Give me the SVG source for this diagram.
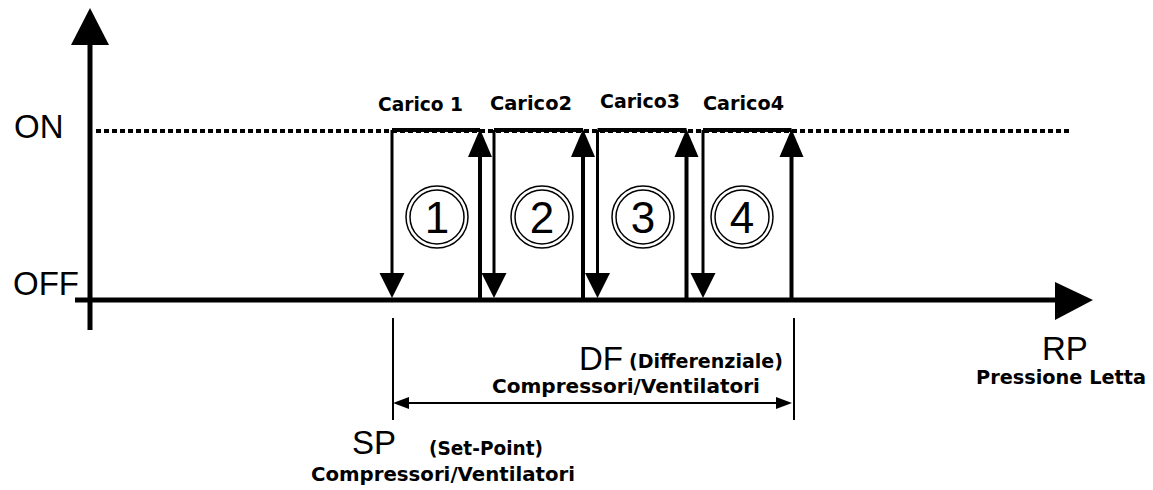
<svg xmlns="http://www.w3.org/2000/svg" width="1153" height="490" viewBox="0 0 1153 490">
<style>
.ax{stroke:#000;stroke-width:5;fill:none}
.th{stroke:#000;stroke-width:3;fill:none}
.thu{stroke:#000;stroke-width:4;fill:none}
.top{stroke:#000;stroke-width:4;fill:none}
.thin{stroke:#000;stroke-width:2;fill:none}
.dot{stroke:#000;stroke-width:4;stroke-dasharray:5 3;fill:none}
.hd{fill:#000;stroke:none}
.ring{fill:none;stroke:#000;stroke-width:1.5}
.big{font-family:"Liberation Sans",Arial,sans-serif;font-size:33px;fill:#000}
.dig{font-family:"Liberation Sans",Arial,sans-serif;font-size:44px;fill:#000;text-anchor:middle}
.sm{font-family:"DejaVu Sans",Verdana,sans-serif;font-weight:bold;font-size:20px;fill:#000}
</style>
<defs>
<polygon id="dn" class="hd" points="-12.5,0 12.5,0 0,25"/>
<polygon id="up" class="hd" points="0,0 -12,28 12,28"/>
<g id="ring"><circle class="ring" r="31"/><circle class="ring" r="27"/></g>
</defs>
<rect width="1153" height="490" fill="#fff"/>
<g id="axes">
<line class="dot" x1="96" y1="131" x2="1070" y2="131"/>
<line class="ax" x1="90" y1="40" x2="90" y2="330"/>
<polygon class="hd" points="90,8 71,45 109,45"/>
<line class="ax" x1="75" y1="300" x2="1060" y2="300"/>
<polygon class="hd" points="1093,300 1055,282 1055,320"/>
<text class="big" x="14" y="138">ON</text>
<text class="big" x="13" y="295">OFF</text>
<text class="big" x="1042" y="360">RP</text>
<text class="sm" x="976" y="384" textLength="170" lengthAdjust="spacingAndGlyphs">Pressione Letta</text>
</g>
<g id="load1">
<line class="top" x1="392" y1="130" x2="480" y2="130"/>
<line class="th" x1="392" y1="130" x2="392" y2="275"/>
<use href="#dn" x="392" y="273"/>
<line class="thu" x1="480" y1="300" x2="480" y2="155"/>
<use href="#up" x="480" y="129"/>
<use href="#ring" x="437" y="217"/>
<text class="dig" x="437" y="233">1</text>
<text class="sm" x="378" y="111" textLength="85" lengthAdjust="spacingAndGlyphs">Carico 1</text>
</g>
<g id="load2">
<line class="top" x1="494" y1="130" x2="583" y2="130"/>
<line class="th" x1="494" y1="130" x2="494" y2="275"/>
<use href="#dn" x="494" y="273"/>
<line class="thu" x1="583" y1="300" x2="583" y2="155"/>
<use href="#up" x="583" y="129"/>
<use href="#ring" x="542" y="217"/>
<text class="dig" x="542" y="233">2</text>
<text class="sm" x="490" y="110" textLength="82" lengthAdjust="spacingAndGlyphs">Carico2</text>
</g>
<g id="load3">
<line class="top" x1="597.5" y1="130" x2="686.5" y2="130"/>
<line class="th" x1="597.5" y1="130" x2="597.5" y2="275"/>
<use href="#dn" x="597.5" y="273"/>
<line class="thu" x1="686.5" y1="300" x2="686.5" y2="155"/>
<use href="#up" x="686.5" y="129"/>
<use href="#ring" x="643" y="217"/>
<text class="dig" x="643" y="233">3</text>
<text class="sm" x="600" y="108" textLength="80" lengthAdjust="spacingAndGlyphs">Carico3</text>
</g>
<g id="load4">
<line class="top" x1="703" y1="130" x2="791.5" y2="130"/>
<line class="th" x1="703" y1="130" x2="703" y2="275"/>
<use href="#dn" x="703" y="273"/>
<line class="thu" x1="791.5" y1="300" x2="791.5" y2="155"/>
<use href="#up" x="791.5" y="129"/>
<use href="#ring" x="742" y="217"/>
<text class="dig" x="742" y="233">4</text>
<text class="sm" x="703" y="110" textLength="81" lengthAdjust="spacingAndGlyphs">Carico4</text>
</g>
<g id="connectors">
<line class="thin" x1="393" y1="318" x2="393" y2="420"/>
<line class="thin" x1="794" y1="318" x2="794" y2="420"/>
<line class="thin" x1="400" y1="403" x2="785" y2="403"/>
<polygon class="hd" points="393,403 409,397 409,409"/>
<polygon class="hd" points="792,403 776,397 776,409"/>
</g>
<g id="df">
<text class="big" x="579" y="370" font-size="35">DF</text>
<text class="sm" x="629" y="368" textLength="154" lengthAdjust="spacingAndGlyphs">(Differenziale)</text>
<text class="sm" x="492" y="393" textLength="268" lengthAdjust="spacingAndGlyphs">Compressori/Ventilatori</text>
</g>
<g id="sp">
<text class="big" x="352" y="454" textLength="44">SP</text>
<text class="sm" x="429" y="455" textLength="114" lengthAdjust="spacingAndGlyphs">(Set-Point)</text>
<text class="sm" x="311" y="481" textLength="264" lengthAdjust="spacingAndGlyphs">Compressori/Ventilatori</text>
</g>
</svg>
